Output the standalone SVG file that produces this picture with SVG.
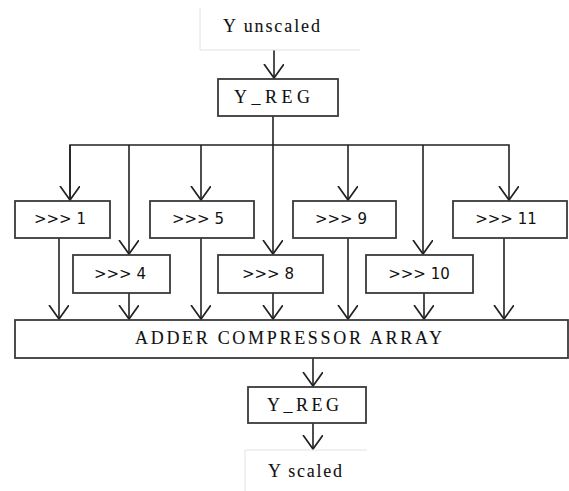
<svg xmlns="http://www.w3.org/2000/svg" width="569" height="491" viewBox="0 0 569 491">
<defs>
<style>
.box{fill:#fff;stroke:#3a3a3a;stroke-width:1.8}
.io{fill:none;stroke:#e2e2e2;stroke-width:1}
.c{fill:none;stroke:#222;stroke-width:1.6}
.serif{font-family:"Liberation Serif","Times New Roman",serif;font-size:18px;fill:#111;stroke:#111;stroke-width:0.1}
.sans{font-family:"DejaVu Sans","Noto Sans",sans-serif;font-size:15px;fill:#111}
</style>
<marker id="arr" markerWidth="18" markerHeight="24" refX="14" refY="10" orient="auto" markerUnits="userSpaceOnUse">
<path d="M0,0 L14,10 L0,20" fill="none" stroke="#222" stroke-width="1.7"/>
</marker>
</defs>
<rect width="569" height="491" fill="#fff"/>
<g id="connectors">
<line class="c" x1="274" y1="50" x2="274" y2="78" marker-end="url(#arr)"/>
<line class="c" x1="273" y1="116" x2="273" y2="254" marker-end="url(#arr)"/>
<polyline class="c" points="70,200 70,145 509,145 509,200" marker-end="url(#arr)"/>
<line class="c" x1="70" y1="145" x2="70" y2="200" marker-end="url(#arr)"/>
<line class="c" x1="129" y1="145" x2="129" y2="254" marker-end="url(#arr)"/>
<line class="c" x1="201" y1="145" x2="201" y2="200" marker-end="url(#arr)"/>
<line class="c" x1="348" y1="145" x2="348" y2="200" marker-end="url(#arr)"/>
<line class="c" x1="423" y1="145" x2="423" y2="254" marker-end="url(#arr)"/>
<line class="c" x1="59" y1="238" x2="59" y2="319" marker-end="url(#arr)"/>
<line class="c" x1="129" y1="293" x2="129" y2="319" marker-end="url(#arr)"/>
<line class="c" x1="201" y1="238" x2="201" y2="319" marker-end="url(#arr)"/>
<line class="c" x1="273" y1="293" x2="273" y2="319" marker-end="url(#arr)"/>
<line class="c" x1="348" y1="238" x2="348" y2="319" marker-end="url(#arr)"/>
<line class="c" x1="424" y1="293" x2="424" y2="319" marker-end="url(#arr)"/>
<line class="c" x1="504" y1="238" x2="504" y2="319" marker-end="url(#arr)"/>
<line class="c" x1="313" y1="358" x2="313" y2="386" marker-end="url(#arr)"/>
<line class="c" x1="313" y1="423" x2="313" y2="449" marker-end="url(#arr)"/>
</g>
<g id="y-unscaled">
<polyline class="io" points="200,8 200,50 360,50"/>
<text class="serif" x="223" y="32" textLength="97" lengthAdjust="spacing">Y unscaled</text>
</g>
<g id="y-reg-in">
<rect class="box" x="218" y="79" width="120" height="37"/>
<text class="serif" x="234" y="103" font-size="19" textLength="76" lengthAdjust="spacing">Y_REG</text>
</g>
<g id="shift1">
<rect class="box" x="15" y="201" width="95" height="37"/>
<text class="sans" x="60" y="224" text-anchor="middle">&gt;&gt;&gt; 1</text>
</g>
<g id="shift5">
<rect class="box" x="150" y="201" width="104" height="37"/>
<text class="sans" x="198" y="224" text-anchor="middle">&gt;&gt;&gt; 5</text>
</g>
<g id="shift9">
<rect class="box" x="293" y="201" width="103" height="37"/>
<text class="sans" x="341" y="224" text-anchor="middle">&gt;&gt;&gt; 9</text>
</g>
<g id="shift11">
<rect class="box" x="453" y="201" width="114" height="37"/>
<text class="sans" x="506" y="224" text-anchor="middle">&gt;&gt;&gt; 11</text>
</g>
<g id="shift4">
<rect class="box" x="73" y="255" width="97" height="38"/>
<text class="sans" x="120" y="279" text-anchor="middle">&gt;&gt;&gt; 4</text>
</g>
<g id="shift8">
<rect class="box" x="218" y="255" width="105" height="38"/>
<text class="sans" x="268" y="279" text-anchor="middle">&gt;&gt;&gt; 8</text>
</g>
<g id="shift10">
<rect class="box" x="366" y="255" width="107" height="38"/>
<text class="sans" x="419" y="279" text-anchor="middle">&gt;&gt;&gt; 10</text>
</g>
<g id="adder">
<rect class="box" x="15" y="320" width="553" height="38"/>
<text class="serif" x="135" y="344" font-size="16" textLength="307" lengthAdjust="spacing">ADDER COMPRESSOR ARRAY</text>
</g>
<g id="y-reg-out">
<rect class="box" x="248" y="387" width="118" height="36"/>
<text class="serif" x="267" y="411" font-size="19" textLength="72" lengthAdjust="spacing">Y_REG</text>
</g>
<g id="y-scaled">
<polyline class="io" points="367,450 245,450 245,491"/>
<text class="serif" x="268" y="477" textLength="74" lengthAdjust="spacing">Y scaled</text>
</g>
</svg>
